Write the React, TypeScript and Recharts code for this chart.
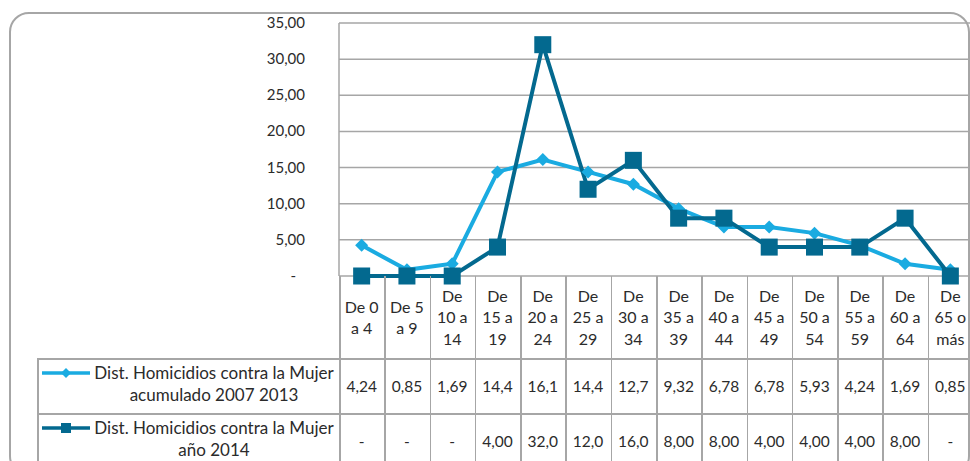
import React from 'react';
import { LineChart, Line, YAxis, XAxis, CartesianGrid } from 'recharts';

const categories = [
  'De 0 a 4', 'De 5 a 9', 'De 10 a 14', 'De 15 a 19', 'De 20 a 24', 'De 25 a 29', 'De 30 a 34',
  'De 35 a 39', 'De 40 a 44', 'De 45 a 49', 'De 50 a 54', 'De 55 a 59', 'De 60 a 64', 'De 65 o más',
];
const acumulado = [4.24, 0.85, 1.69, 14.4, 16.1, 14.4, 12.7, 9.32, 6.78, 6.78, 5.93, 4.24, 1.69, 0.85];
const anio2014 = [0, 0, 0, 4, 32, 12, 16, 8, 8, 4, 4, 4, 8, 0];
const yTicks = [0, 5, 10, 15, 20, 25, 30, 35];
const seriesNames = ['Dist. Homicidios contra la Mujer acumulado 2007 2013', 'Dist. Homicidios contra la Mujer año 2014'];

const LIGHT = '#1AABE1';
const DARK = '#03698F';
const GRID = '#A6A6A6';
const TEXT = '#2B2B2B';
const FONT = 'Lato, "Open Sans", sans-serif';

const PLOT_LEFT = 339;
const PLOT_RIGHT = 973;
const PLOT_TOP = 23;
const PLOT_BOTTOM = 276;
const COL_W = (PLOT_RIGHT - PLOT_LEFT) / categories.length;

const data = categories.map((c, i) => ({ cat: c, a: acumulado[i], b: anio2014[i] }));

const fmtAxis = (v: number) => (v === 0 ? '-' : v.toFixed(2).replace('.', ','));
const fmtCell = (v: number) => (v === 0 ? '-' : (v >= 10 ? v.toFixed(1) : v.toFixed(2)).replace('.', ','));

// greedy wrap, roughly what excel does in the narrow table columns
const wrap = (label: string, max = 4) => {
  const lines: string[] = [];
  let cur = '';
  label.split(' ').forEach((w) => {
    const next = cur ? cur + ' ' + w : w;
    if (next.length > max && cur) {
      lines.push(cur);
      cur = w;
    } else cur = next;
  });
  if (cur) lines.push(cur);
  return lines;
};

const YTick = (props: any) => {
  const { x, y, payload } = props;
  const v = payload.value as number;
  return (
    <text x={v === 0 ? x - 9 : x} y={y} dy={5} textAnchor="end" fill={TEXT} fontSize={15} fontFamily={FONT}>
      {fmtAxis(v)}
    </text>
  );
};

const Diamond = (props: any) => {
  const { cx, cy } = props;
  if (cx == null || cy == null) return null;
  const r = 6.5;
  return <polygon points={`${cx},${cy - r} ${cx + r},${cy} ${cx},${cy + r} ${cx - r},${cy}`} fill={LIGHT} />;
};

const Square = (props: any) => {
  const { cx, cy } = props;
  if (cx == null || cy == null) return null;
  return <rect x={cx - 8.5} y={cy - 8.5} width={17} height={17} fill={DARK} />;
};

const Swatch = ({ color, kind }: { color: string; kind: 'diamond' | 'square' }) => (
  <svg width={50} height={14} style={{ position: 'absolute', left: 41, top: 0 }}>
    <line x1={1} y1={7} x2={49} y2={7} stroke={color} strokeWidth={3.5} />
    {kind === 'diamond' ? (
      <polygon points="25,2 30,7 25,12 20,7" fill={color} />
    ) : (
      <rect x={20} y={2} width={10} height={10} fill={color} />
    )}
  </svg>
);

const abs = (s: React.CSSProperties): React.CSSProperties => ({ position: 'absolute', ...s });

export default function App() {
  const rows = [
    { name: seriesNames[0], values: acumulado, color: LIGHT, kind: 'diamond' as const, top: 358, h: 55 },
    { name: seriesNames[1], values: anio2014, color: DARK, kind: 'square' as const, top: 413, h: 55 },
  ];
  return (
    <div style={{ position: 'fixed', left: 0, top: 0, width: 970, height: 461, overflow: 'hidden', background: '#fff', fontFamily: FONT, color: TEXT }}>
      <div style={abs({ left: 9, top: 12, width: 957, height: 460, border: `2px solid ${GRID}`, borderRadius: 20 })} />

      <div style={abs({ left: 0, top: 0 })}>
        <LineChart width={1000} height={300} data={data} margin={{ top: PLOT_TOP, right: 1000 - PLOT_RIGHT, bottom: 300 - PLOT_BOTTOM, left: PLOT_LEFT - 60 }}>
          <CartesianGrid vertical={false} stroke={GRID} strokeWidth={1.5} />
          <XAxis dataKey="cat" hide padding={{ left: COL_W / 2, right: COL_W / 2 }} />
          <YAxis
            width={60}
            domain={[0, 35]}
            ticks={yTicks}
            interval={0}
            tickLine={false}
            tickSize={0}
            tickMargin={34}
            axisLine={{ stroke: GRID, strokeWidth: 1.5 }}
            tick={<YTick />}
          />
          <Line type="linear" dataKey="a" stroke={LIGHT} strokeWidth={4} dot={<Diamond />} activeDot={false} isAnimationActive={false} />
          <Line type="linear" dataKey="b" stroke={DARK} strokeWidth={4} dot={<Square />} activeDot={false} isAnimationActive={false} />
        </LineChart>
      </div>

      {/* data table */}
      <div style={abs({ left: PLOT_LEFT, top: PLOT_BOTTOM, width: 1.5, height: 200, background: GRID })} />
      {categories.map((c, i) => (
        <React.Fragment key={c}>
          <div style={abs({ left: PLOT_LEFT + COL_W * (i + 1), top: PLOT_BOTTOM, width: 1.5, height: 200, background: GRID })} />
          <div
            style={abs({
              left: PLOT_LEFT + COL_W * i, top: PLOT_BOTTOM, width: COL_W, height: 82,
              display: 'flex', flexDirection: 'column', justifyContent: 'center', alignItems: 'center',
              fontSize: 16, lineHeight: '21.5px',
            })}
          >
            {wrap(c).map((l) => <div key={l} style={{ whiteSpace: 'nowrap' }}>{l}</div>)}
          </div>
        </React.Fragment>
      ))}
      <div style={abs({ left: 37, top: 358, width: 1.5, height: 120, background: GRID })} />
      {rows.map((r) => (
        <React.Fragment key={r.name}>
          <div style={abs({ left: 37, top: r.top, width: 940, height: 1.5, background: GRID })} />
          <div style={abs({ left: 0, top: r.top + 8, width: 339, height: 14 })}>
            <Swatch color={r.color} kind={r.kind} />
          </div>
          <div style={abs({ left: 92, top: r.top + 4, width: 244, textAlign: 'center', fontSize: 17, lineHeight: '22px', whiteSpace: 'nowrap' })}>
            {r.name.replace(' Mujer ', ' Mujer\n').split('\n').map((l) => <div key={l}>{l}</div>)}
          </div>
          {r.values.map((v, i) => (
            <div
              key={i}
              style={abs({
                left: PLOT_LEFT + COL_W * i, top: r.top, width: COL_W, height: r.h,
                display: 'flex', alignItems: 'center', justifyContent: 'center', fontSize: 15.5,
              })}
            >
              {fmtCell(v)}
            </div>
          ))}
        </React.Fragment>
      ))}
    </div>
  );
}
